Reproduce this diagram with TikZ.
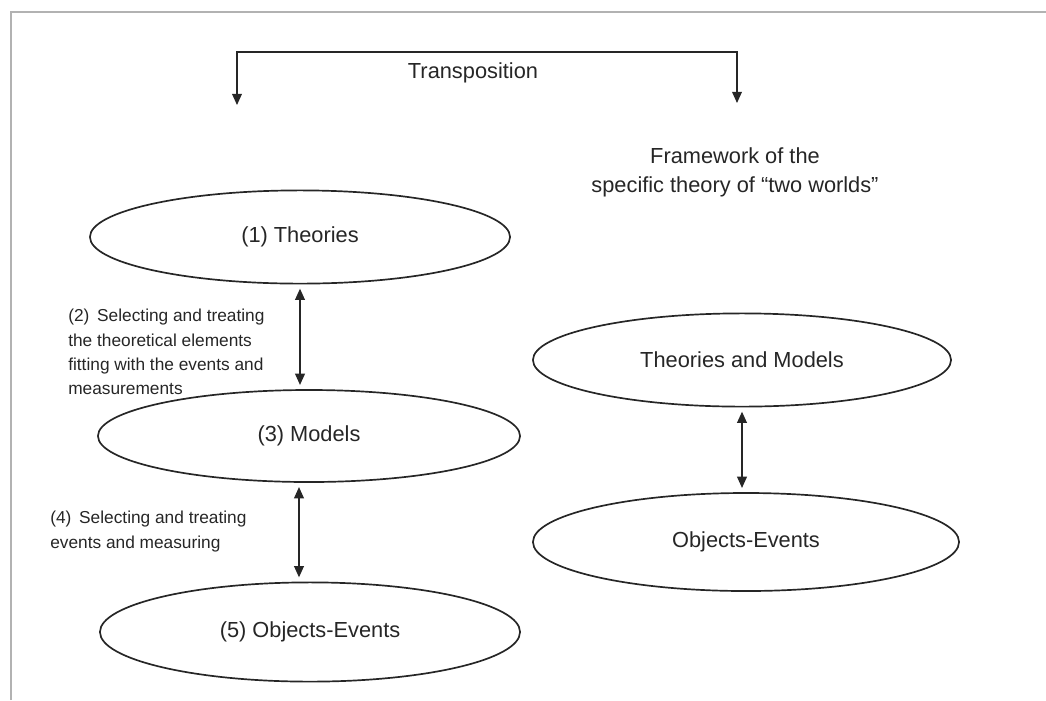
\documentclass[tikz,border=0pt]{standalone}
\usepackage{fontspec}
\setmainfont{Liberation Sans}
\usetikzlibrary{arrows.meta, shapes.geometric}

\tikzset{
  world/.style={ellipse, draw=black!85, line width=1.2pt, inner sep=0pt,
    font=\fontsize{15.5}{19}\selectfont, text=black!85},
  step label/.style={anchor=north west, align=left, inner sep=0pt,
    font=\fontsize{12.3}{17.3}\selectfont, text=black!85},
  tip/.style={-{Triangle[length=8pt,width=7pt]}},
  link/.style={{Triangle[length=8pt,width=7pt]}-{Triangle[length=8pt,width=7pt]},
    line width=0.9pt, draw=black!85, shorten <=3pt, shorten >=3pt}
}

\begin{document}
\begin{tikzpicture}[x=0.025cm, y=-0.025cm]

\useasboundingbox (0,0) rectangle (1046,700);
\draw[black!30, line width=1.6pt] (11,700) -- (11,12) -- (1046,12);

% left side
\node[world, minimum width=10.5cm, minimum height=2.33cm] (theo) at (300,237) {(1) Theories};
\node[world, minimum width=10.55cm, minimum height=2.3cm] (mod) at (309,436) {(3) Models};
\node[world, minimum width=10.5cm, minimum height=2.48cm] (obj) at (310,632) {(5) Objects-Events};

% right side
\node[world, minimum width=10.45cm, minimum height=2.33cm] (thmod) at (742,360) {Theories and Models};
\node[world, minimum width=10.65cm, minimum height=2.45cm] (obev) at (746,542) {Objects-Events};

\node[font=\fontsize{15.5}{20.6}\selectfont, text=black!85, align=center] (frame) at (735,172)
  {Framework of the\\specific theory of ``two worlds''};
\node[font=\fontsize{15.5}{19}\selectfont, text=black!85] (trans) at (473,73) {Transposition};

\node[step label] (sel2) at (68,309) {(2)\hspace{0.45em}Selecting and treating\\the theoretical elements\\fitting with the events and\\measurements};
\node[step label] (sel4) at (50,511) {(4)\hspace{0.45em}Selecting and treating\\events and measuring};

\draw[link] (theo.south) -- (theo.south |- mod.north);
\draw[link] ([xshift=-0.25cm]mod.south) -- ([xshift=-0.25cm]mod.south |- obj.north);
\draw[link] (thmod.south) -- (thmod.south |- obev.north);

% transposition bracket
\coordinate (lt) at (237,105);
\coordinate (rt) at (737,103);
\coordinate (top) at (487,52);
\draw[tip, line width=0.9pt, draw=black!85] (top) -| (lt);
\draw[tip, line width=0.9pt, draw=black!85] (top) -| (rt);

\end{tikzpicture}
\end{document}
